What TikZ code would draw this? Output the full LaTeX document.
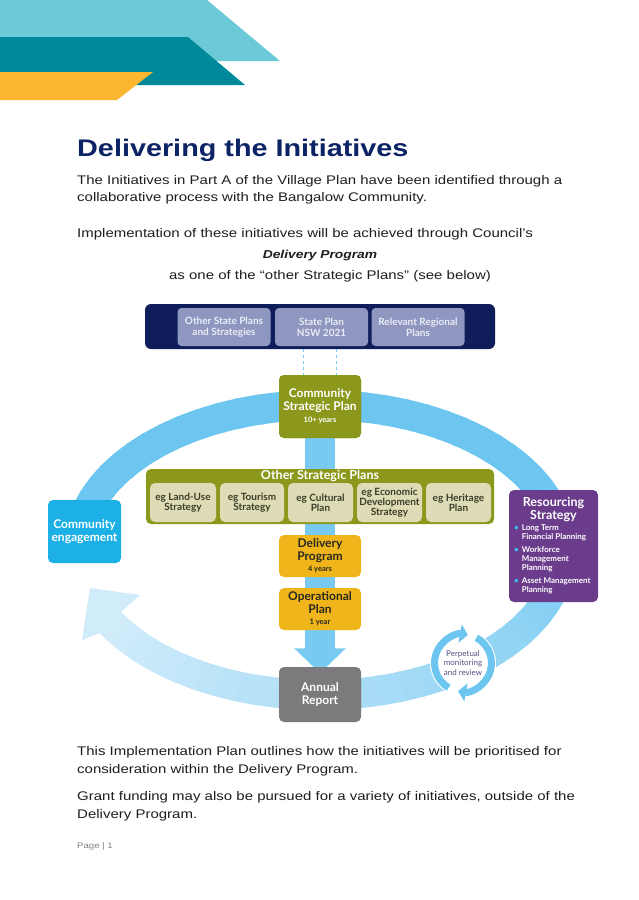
\documentclass[tikz,border=0pt]{standalone}
\usepackage{fontspec}
\usetikzlibrary{arrows.meta}
\setmainfont{Liberation Sans}[FakeStretch=1.2]
\newfontfamily\diafont{Lato}
\newcommand{\fsz}[2]{\fontsize{#1}{#2}\selectfont}

\definecolor{bandcyan}{RGB}{108,202,216}
\definecolor{bandteal}{RGB}{0,137,154}
\definecolor{bandgold}{RGB}{253,182,48}
\definecolor{titlenavy}{RGB}{12,35,102}
\definecolor{bodyblack}{RGB}{30,30,30}
\definecolor{statenavy}{RGB}{15,29,90}
\definecolor{lavender}{RGB}{143,151,192}
\definecolor{statetext}{RGB}{234,236,246}
\definecolor{olivegreen}{RGB}{140,152,28}
\definecolor{beige}{RGB}{221,220,182}
\definecolor{egtext}{RGB}{60,60,40}
\definecolor{gold}{RGB}{239,181,26}
\definecolor{darktext}{RGB}{40,40,30}
\definecolor{reportgray}{RGB}{123,123,125}
\definecolor{engagecyan}{RGB}{28,176,230}
\definecolor{respurple}{RGB}{106,60,139}
\definecolor{bulletblue}{RGB}{60,190,240}
\definecolor{ringdark}{RGB}{108,198,240}
\definecolor{ringlight}{RGB}{208,235,250}
\definecolor{barblue}{RGB}{120,202,241}
\definecolor{monitortext}{RGB}{90,80,130}

\tikzset{
    bodytext/.style = {anchor=base west, inner sep=0pt, text=bodyblack, font=\fsz{12.5}{15}},
    statebox/.style = {fill=lavender, text=statetext, rounded corners=4pt, minimum width=93pt, minimum height=38pt,
        inner sep=0pt, align=center, font=\diafont\bfseries\fsz{10}{11}},
    olivebox/.style = {fill=olivegreen, text=white, rounded corners=5pt, inner sep=0pt, align=center,
        font=\diafont\bfseries\fsz{12}{13}},
    egbox/.style = {fill=beige, text=egtext, rounded corners=5pt, minimum width=65pt, minimum height=39pt,
        inner sep=0pt, align=center, font=\diafont\bfseries\fsz{10}{10}},
    goldbox/.style = {fill=gold, text=darktext, rounded corners=5pt, minimum width=82pt, minimum height=42pt,
        inner sep=0pt, align=center, font=\diafont\bfseries\fsz{12}{12.5}},
    ring/.style = {line width=30pt, line cap=butt},
    dashline/.style = {draw=barblue, dashed, line width=0.8pt},
    cyclearrow/.style = {draw=ringdark, line width=7pt, ->},
}

\begin{document}
\begin{tikzpicture}[x=1pt, y=-1pt, >={Triangle[length=8pt, width=18pt]}]
    \useasboundingbox[fill=white] (0,0) rectangle (638,900);

    % header bands
    \fill[bandcyan] (0,0) -- (207,0) -- (280,61) -- (0,61) -- cycle;
    \fill[bandteal] (0,37) -- (188,37) -- (245,85) -- (0,85) -- cycle;
    \fill[bandgold] (0,72) -- (153,72) -- (117,100) -- (0,100) -- cycle;

    % page text
    \node[anchor=base west, inner sep=0pt, text=titlenavy, font=\fsz{24}{28}\bfseries] (title) at (77,156) {Delivering the Initiatives};
    \node[bodytext] (intro1) at (77,184) {The Initiatives in Part A of the Village Plan have been identified through a};
    \node[bodytext] (intro2) at (77,201) {collaborative process with the Bangalow Community.};
    \node[bodytext] (intro3) at (77,237) {Implementation of these initiatives will be achieved through Council’s};
    \node[bodytext, anchor=base, font=\fsz{11.5}{14}\bfseries\itshape] (intro4) at (320,258) {Delivery Program};
    \node[bodytext, anchor=base] (intro5) at (330,279) {as one of the “other Strategic Plans” (see below)};

    % cycle ring
    \foreach \t in {195,200,...,505}{
        \pgfmathsetmacro\tend{\t+6}
        \pgfmathtruncatemacro\f{max(0,min(100,(\t-330)/1.75))}
        \draw[ring, color=ringlight!\f!ringdark] plot[domain=\t:\tend, samples=4] ({320+242*cos(\x)},{550+145*sin(\x)});
    }
    \fill[ringlight] (90,588) -- (140,595) -- (121,612) -- (100,633) -- (82,640) -- cycle;

    % state plans
    \node[fill=statenavy, rounded corners=6pt, minimum width=350pt, minimum height=45pt] (stateband) at (320,326.5) {};
    \node[statebox] (otherstate) at (224,327) {Other State Plans\\and Strategies};
    \node[statebox] (nsw) at (321.5,327) {State Plan\\NSW 2021};
    \node[statebox] (regional) at (418,327) {Relevant Regional\\Plans};

    % community strategic plan and down the middle
    \node[olivebox, minimum width=82pt, minimum height=63pt] (csp) at (320,406.5) {};
    \node[olivebox, minimum width=82pt, minimum height=42pt] (annual) at (320,694.5) {};
    \draw[dashline] ([xshift=-17pt]csp.north |- stateband.south) -- ([xshift=-17pt]csp.north);
    \draw[dashline] ([xshift=16pt]csp.north |- stateband.south) -- ([xshift=16pt]csp.north);
    \draw[line width=30pt, draw=barblue, -{Triangle[length=25pt, width=50pt]}] (csp.south) -- (annual.north);

    \node[olivebox, minimum width=82pt, minimum height=63pt] (csp) at (320,406.5)
        {Community\\Strategic Plan\\[-1pt]{\fsz{7.5}{9}10+ years}};

    \node[olivebox, minimum width=348pt, minimum height=55pt] (otherplans) at (320,496.5) {};
    \node[olivebox, font=\diafont\bfseries\fsz{12.5}{13}] (otherhead) at (320,475.5) {Other Strategic Plans};
    \node[egbox, minimum width=66pt] (landuse) at (183,502.5) {eg Land-Use\\Strategy};
    \node[egbox, minimum width=64pt] (tourism) at (252,502.5) {eg Tourism\\Strategy};
    \node[egbox] (cultural) at (320.5,502.5) {eg Cultural\\Plan};
    \node[egbox] (economic) at (389.5,502.5) {eg Economic\\Development\\Strategy};
    \node[egbox] (heritage) at (458.5,502.5) {eg Heritage\\Plan};

    \node[goldbox] (delivery) at (320,556) {Delivery\\Program\\[-1pt]{\fsz{7.5}{9}4 years}};
    \node[goldbox] (operational) at (320,609) {Operational\\Plan\\[-1pt]{\fsz{7.5}{9}1 year}};

    \node[olivebox, fill=reportgray, minimum width=82pt, minimum height=55pt] (annual) at (320,694.5) {Annual\\Report};

    % around the ring
    \node[olivebox, fill=engagecyan, font=\diafont\bfseries\fsz{12}{13}, minimum width=73pt, minimum height=63pt]
        (engage) at (84.5,531.5) {Community\\engagement};

    \node[olivebox, fill=respurple, minimum width=89pt, minimum height=112pt] (resourcing) at (553.5,546) {};
    \node[olivebox, fill=none, font=\diafont\bfseries\fsz{12.5}{13}] (restitle) at (553.5,509) {Resourcing\\Strategy};
    \node[anchor=north west, inner sep=0pt, text=white, font=\diafont\bfseries\fsz{8}{9}] (reslist) at (514,524) {%
        \begin{tabular}{@{}l@{\hspace{3pt}}l@{}}
            \textcolor{bulletblue}{\textbullet} & Long Term\\
            & Financial Planning\\[4pt]
            \textcolor{bulletblue}{\textbullet} & Workforce\\
            & Management\\
            & Planning\\[4pt]
            \textcolor{bulletblue}{\textbullet} & Asset Management\\
            & Planning
        \end{tabular}};

    \node[circle, fill=white, minimum size=66pt, inner sep=0pt, align=center, text=monitortext,
        font=\diafont\fsz{8}{9.5}] (monitor) at (463,663) {Perpetual\\monitoring\\and review};
    \draw[cyclearrow] ([shift={(120:28.5)}]monitor.center) arc[start angle=120, end angle=280, radius=28.5];
    \draw[cyclearrow] ([shift={(298:28.5)}]monitor.center) arc[start angle=298, end angle=460, radius=28.5];

    % closing text
    \node[bodytext] (outro1) at (77,755) {This Implementation Plan outlines how the initiatives will be prioritised for};
    \node[bodytext] (outro2) at (77,773) {consideration within the Delivery Program.};
    \node[bodytext] (outro3) at (77,800) {Grant funding may also be pursued for a variety of initiatives, outside of the};
    \node[bodytext] (outro4) at (77,818) {Delivery Program.};
    \node[bodytext, text=gray, font=\fsz{8}{10}] (pageno) at (77,848) {Page | 1};
\end{tikzpicture}
\end{document}
